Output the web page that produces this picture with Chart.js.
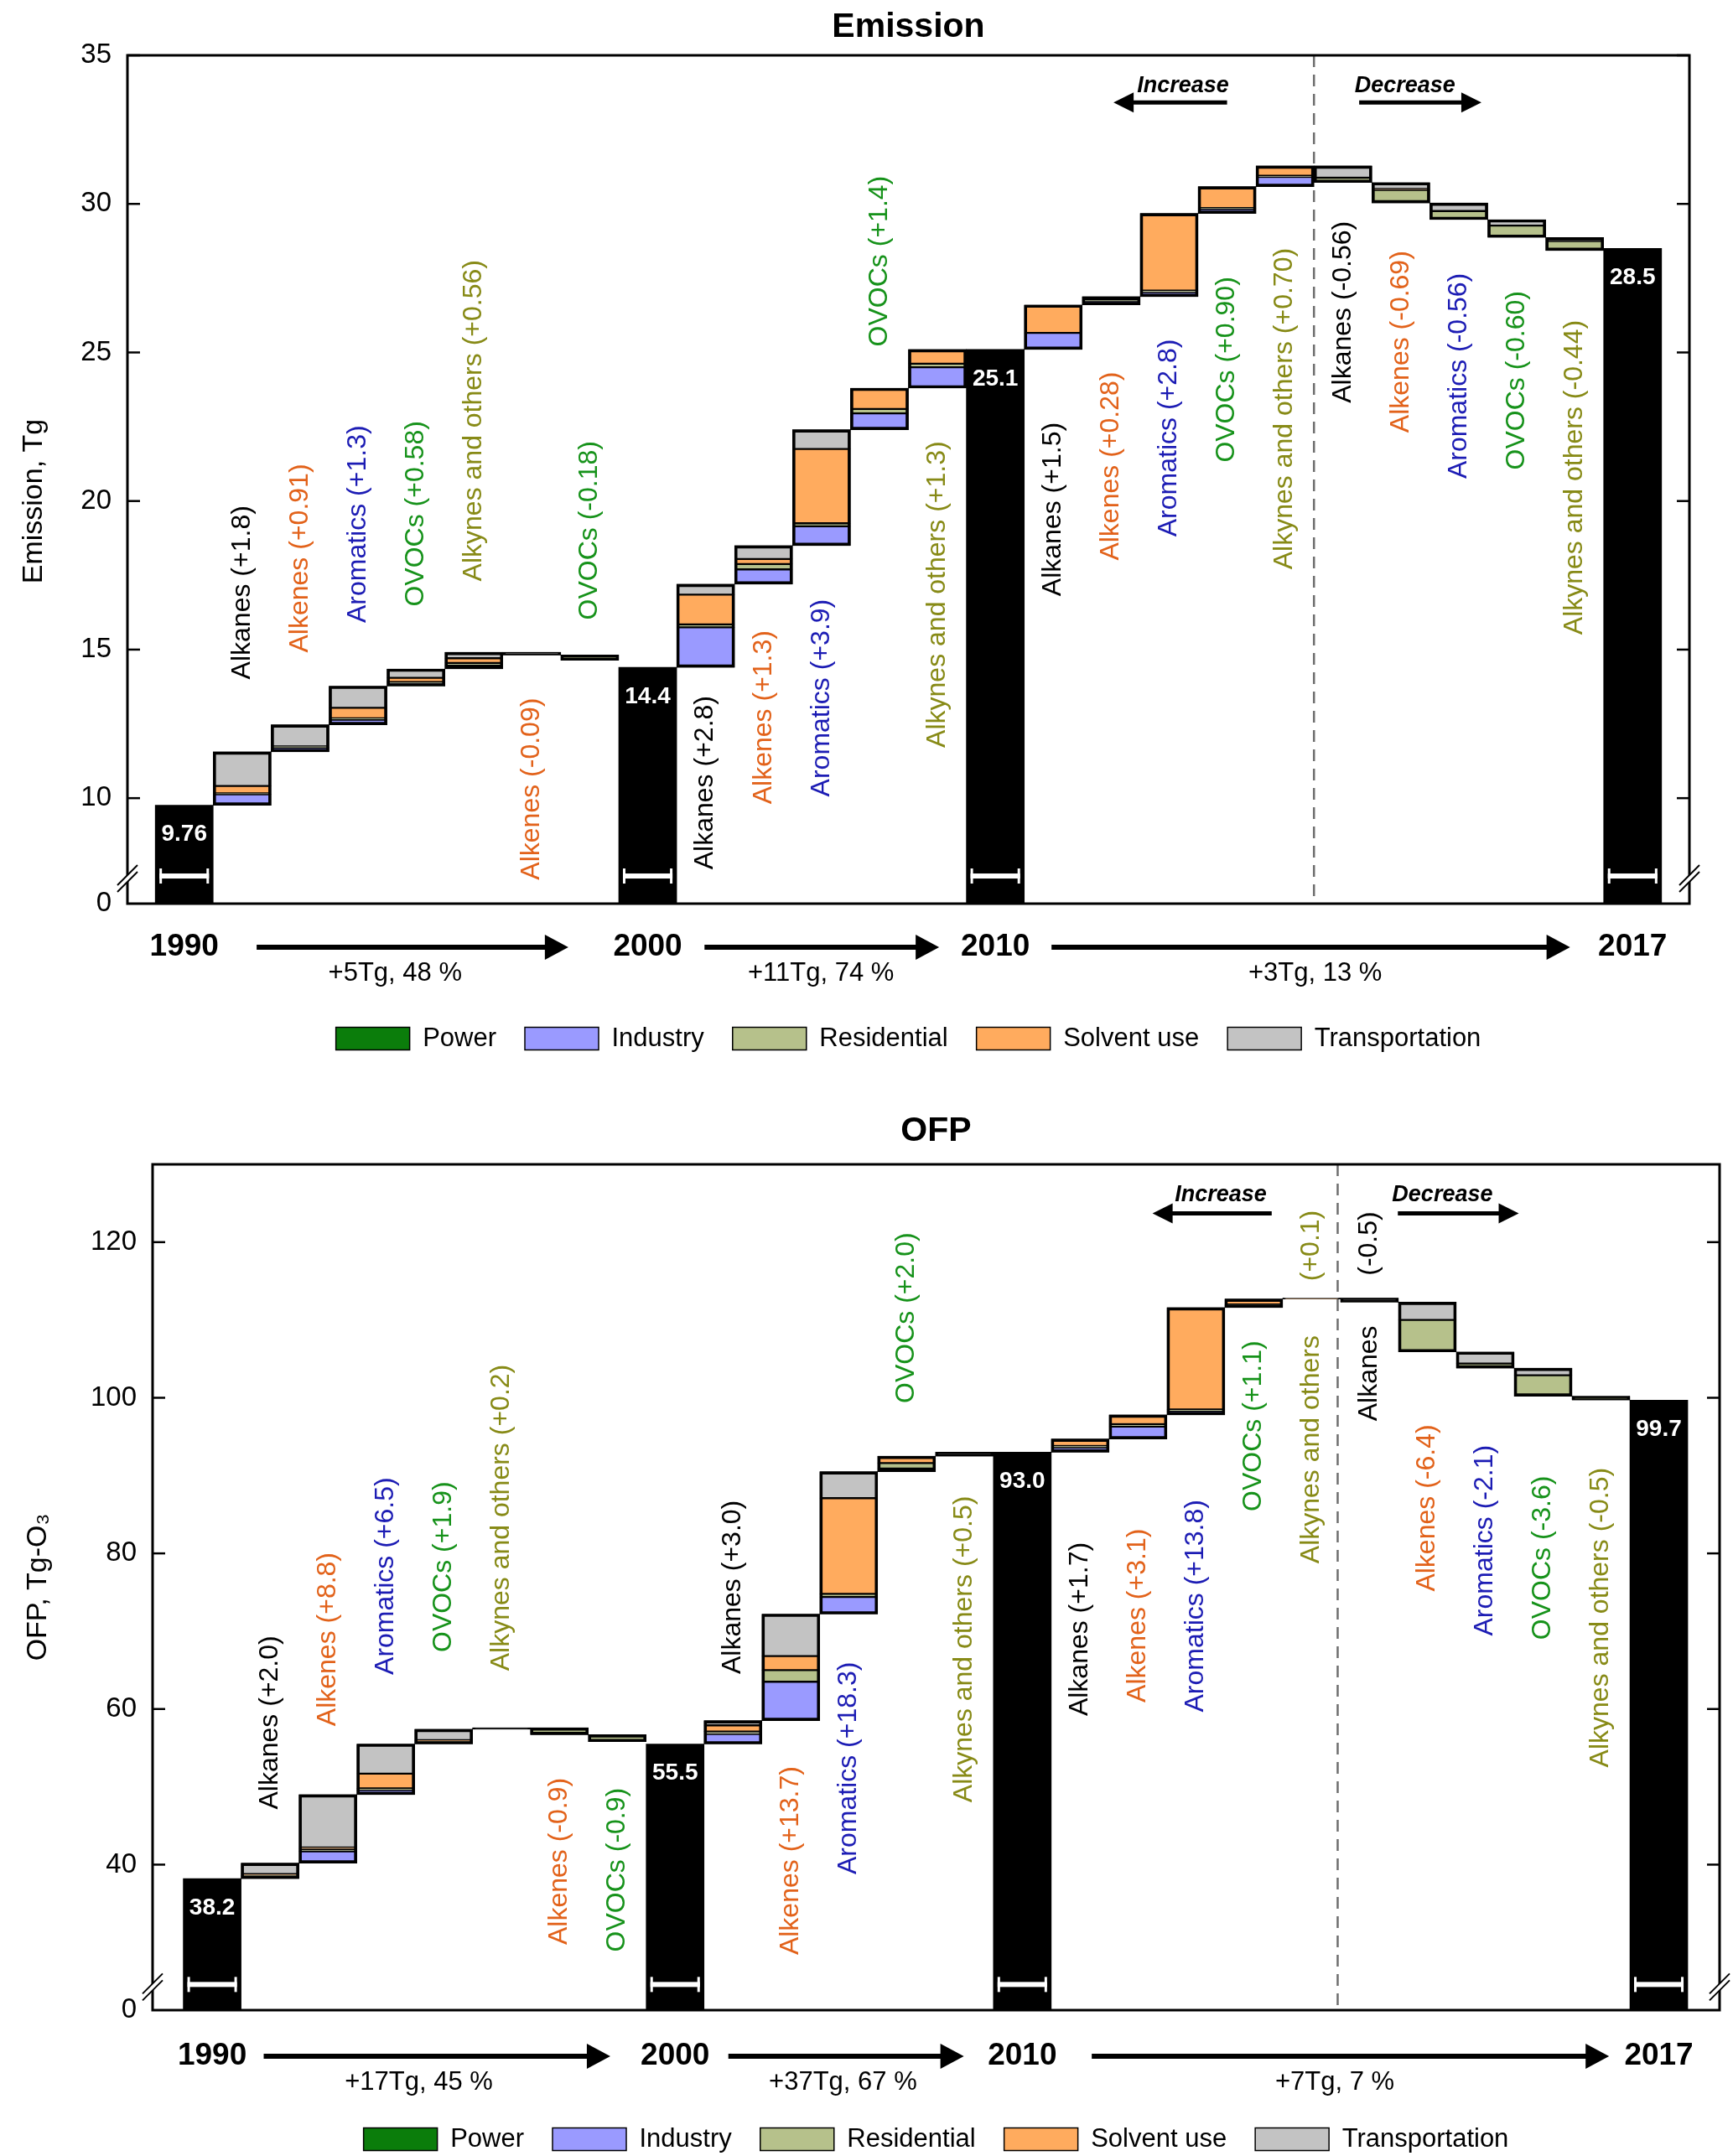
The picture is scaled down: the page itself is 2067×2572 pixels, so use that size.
<!DOCTYPE html>
<html>
<head>
<meta charset="utf-8">
<title>Emission / OFP</title>
<script src="https://cdn.jsdelivr.net/npm/chart.js@4.4.1/dist/chart.umd.min.js"></script>
<style>
  html, body { margin: 0; padding: 0; background: #fff; overflow: hidden; }
  canvas { display: block; }
</style>
</head>
<body>
<canvas id="emisChart" width="2067" height="1300" style="width:2067px;height:1300px"></canvas>
<canvas id="ofpChart" width="2067" height="1285" style="width:2067px;height:1285px"></canvas>
<script>
// ---- data ----
const sectorNames = ['Power', 'Industry', 'Residential', 'Solvent use', 'Transportation'];
const years = ['1990', '2000', '2010', '2017'];

// Emission, Tg
const emisCats = [
  '1990',
  'Alkanes (+1.8)', 'Alkenes (+0.91)', 'Aromatics (+1.3)', 'OVOCs (+0.58)', 'Alkynes and others (+0.56)', 'Alkenes (-0.09)', 'OVOCs (-0.18)',
  '2000',
  'Alkanes (+2.8)', 'Alkenes (+1.3)', 'Aromatics (+3.9)', 'OVOCs (+1.4)', 'Alkynes and others (+1.3)',
  '2010',
  'Alkanes (+1.5)', 'Alkenes (+0.28)', 'Aromatics (+2.8)', 'OVOCs (+0.90)', 'Alkynes and others (+0.70)',
  'Alkanes (-0.56)', 'Alkenes (-0.69)', 'Aromatics (-0.56)', 'OVOCs (-0.60)', 'Alkynes and others (-0.44)',
  '2017'
];
const emisTotal = [9.76, null, null, null, null, null, null, null, 14.4, null, null, null, null, null, 25.1,
  null, null, null, null, null, null, null, null, null, null, 28.5];
const emisPower = [0, 0, 0, 0, 0.04, 0, 0, 0, 0, 0, 0, 0, 0, 0, 0, 0, 0, 0, 0, 0, 0, 0, 0, 0, 0, 0];
const emisIndustry = [0, 0.37, 0.14, 0.17, 0.06, 0.12, 0, 0, 0, 1.35, 0.5, 0.65, 0.55, 0.7, 0,
  0.56, 0.12, 0.15, 0.15, 0.33, 0, 0, 0, 0, 0, 0];
const emisResidential = [0, 0.03, 0.04, 0.05, 0.04, 0.08, -0.03, -0.18, 0, 0.1, 0.18, 0.1, 0.15, 0.12, 0,
  0, 0.04, 0.05, 0.03, 0.04, -0.16, -0.44, -0.29, -0.40, -0.32, 0];
const emisSolvent = [0, 0.25, 0, 0.35, 0.14, 0.16, 0, 0, 0, 1.0, 0.17, 2.5, 0.7, 0.48, 0,
  0.94, 0.12, 2.6, 0.72, 0.33, 0, -0.03, 0, 0, 0, 0];
const emisTransport = [0, 1.15, 0.73, 0.73, 0.30, 0.20, -0.06, 0, 0, 0.35, 0.45, 0.65, 0, 0, 0,
  0, 0, 0, 0, 0, -0.40, -0.22, -0.27, -0.20, -0.12, 0];
const emisChange = ['+5Tg, 48 %', '+11Tg, 74 %', '+3Tg, 13 %'];
const emisTicks = [10, 15, 20, 25, 30, 35];

// OFP, Tg-O3
const ofpCats = [
  '1990',
  'Alkanes (+2.0)', 'Alkenes (+8.8)', 'Aromatics (+6.5)', 'OVOCs (+1.9)', 'Alkynes and others (+0.2)', 'Alkenes (-0.9)', 'OVOCs (-0.9)',
  '2000',
  'Alkanes (+3.0)', 'Alkenes (+13.7)', 'Aromatics (+18.3)', 'OVOCs (+2.0)', 'Alkynes and others (+0.5)',
  '2010',
  'Alkanes (+1.7)', 'Alkenes (+3.1)', 'Aromatics (+13.8)', 'OVOCs (+1.1)', 'Alkynes and others (+0.1)',
  'Alkanes (-0.5)', 'Alkenes (-6.4)', 'Aromatics (-2.1)', 'OVOCs (-3.6)', 'Alkynes and others (-0.5)',
  '2017'
];
const ofpTotal = [38.2, null, null, null, null, null, null, null, 55.5, null, null, null, null, null, 93.0,
  null, null, null, null, null, null, null, null, null, null, 99.7];
const ofpPower = [0, 0, 0, 0, 0, 0, 0, 0, 0, 0, 0, 0, 0, 0, 0, 0, 0, 0, 0, 0, 0, 0, 0, 0, 0, 0];
const ofpIndustry = [0, 0.3, 1.5, 0.6, 0.2, 0, 0, 0, 0, 1.3, 5.0, 2.2, 0.4, 0.2, 0,
  0.6, 1.6, 0.5, 0.2, 0, 0, 0, 0, 0, 0, 0];
const ofpResidential = [0, 0.1, 0.3, 0.2, 0.2, 0, -0.9, -0.9, 0, 0.3, 1.5, 0.4, 0.7, 0, 0,
  0.2, 0.3, 0.2, 0.2, 0, -0.1, -4.1, -0.6, -2.7, -0.4, 0];
const ofpSolvent = [0, 0.2, 0.2, 1.9, 0.1, 0, 0, 0, 0, 0.8, 1.8, 12.3, 0.8, 0, 0,
  0.9, 1.2, 13.1, 0.7, 0.05, 0, 0, 0, 0, 0, 0];
const ofpTransport = [0, 1.4, 6.8, 3.8, 1.4, 0.2, 0, 0, 0, 0.6, 5.4, 3.4, 0.1, 0.3, 0,
  0, 0, 0, 0, 0.05, -0.4, -2.3, -1.5, -0.9, -0.1, 0];
const ofpChange = ['+17Tg, 45 %', '+37Tg, 67 %', '+7Tg, 7 %'];
const ofpTicks = [40, 60, 80, 100, 120];

// ---- look ----
const FONT = '"Liberation Sans", Arial, Helvetica, sans-serif';
const sectorColors = ['#0b7d0b', '#9a9aff', '#b6c18b', '#ffab5e', '#c3c3c3'];
const speciesColors = { Alkanes: '#000000', Alkenes: '#e2621a', Aromatics: '#1c1cb4', OVOCs: '#16921a', Alkynes: '#878a16' };

// layout: pixel offsets and where each rotated label starts (in axis units)
const emisLayout = {
  canvas: 'emisChart', title: 'Emission', yTitle: 'Emission, Tg',
  yMin: 6.45, yMax: 35, xMin: -0.98, xMax: 25.98, breakAt: 7.38,
  axisWidth: 152, yTitleX: 41, yTitleDy: 26, padding: { top: 66, right: 52, bottom: 35.5, left: 0 },
  xAxisHeight: 111.5, titleY: 33, yearDy: 52, changeDy: 83,
  arrows: [[1.25, 6.63], [8.98, 13.03], [14.97, 23.92]],
  changeAt: [3.64, 10.99, 19.52],
  dividerAt: 19.5,
  incAt: 17.24, decAt: 21.07, incY: 33.97, incArrowY: 33.41, incArrow: [18.0, 16.04], decArrow: [20.28, 22.39],
  labelAt: [null, 14.0, 14.9, 15.9, 16.45, 17.3, 7.25, 16.0, null, 7.6, 9.8, 10.05, 25.2, 11.7, null,
    16.8, 18.0, 18.8, 21.3, 17.7, 23.3, 22.3, 20.75, 21.05, 15.5, null]
};
const ofpLayout = {
  canvas: 'ofpChart', title: 'OFP', yTitle: 'OFP, Tg-O\u2083',
  yMin: 21.3, yMax: 130, xMin: -1.03, xMax: 26.05, breakAt: 24.6,
  axisWidth: 182, yTitleX: 46, yTitleDy: 0, padding: { top: 89, right: 16, bottom: 7.5, left: 0 },
  xAxisHeight: 104.5, titleY: 50, yearDy: 55, changeDy: 86,
  arrows: [[0.89, 6.88], [8.92, 12.99], [15.2, 24.14]],
  changeAt: [3.57, 10.9, 19.4],
  dividerAt: 19.45,
  incAt: 17.43, decAt: 21.26, incY: 126.06, incArrowY: 123.7, incArrow: [18.31, 16.25], decArrow: [20.49, 22.58],
  labelAt: [null, 47.1, 57.8, 64.4, 67.3, 64.9, 29.7, 28.8, null, 64.5, 28.4, 38.75, 99.3, 48.0, null,
    59.1, 60.85, 59.6, 85.4, [78.7, 115.0], [97.0, 115.7], 75.1, 69.4, 68.9, 52.5, null]
};

// cumulative waterfall: steps start where the previous one ended, totals reset the level
function buildWaterfall(cats, totals, parts, yMin) {
  const sectors = parts.map(() => []);
  const steps = [];
  const bases = [];
  let level = 0;
  cats.forEach((c, i) => {
    if (totals[i] !== null) {
      level = totals[i];
      bases.push({ x: i, y: [yMin, totals[i]] });
      return;
    }
    const sum = parts.reduce((s, p) => s + p[i], 0);
    const lo = Math.min(level, level + sum);
    let top = lo;
    parts.forEach((p, k) => {
      const v = Math.abs(p[i]);
      if (v > 0) sectors[k].push({ x: i, y: [top, top + v] });
      top += v;
    });
    steps.push({ x: i, y: [lo, lo + Math.abs(sum)] });
    level += sum;
  });
  return { sectors, steps, bases };
}

function line(ctx, x0, y0, x1, y1) {
  ctx.beginPath(); ctx.moveTo(x0, y0); ctx.lineTo(x1, y1); ctx.stroke();
}

function arrow(ctx, x0, x1, yy, lw, headLen, headHalf) {
  const dir = Math.sign(x1 - x0);
  ctx.lineWidth = lw;
  line(ctx, x0, yy, x1 - dir * headLen * 0.8, yy);
  ctx.beginPath();
  ctx.moveTo(x1, yy);
  ctx.lineTo(x1 - dir * headLen, yy - headHalf);
  ctx.lineTo(x1 - dir * headLen, yy + headHalf);
  ctx.closePath();
  ctx.fill();
}

function decorPlugin(L, cats, totals, ticks, change) {
  const totIdx = totals.map((v, i) => (v === null ? -1 : i)).filter(i => i >= 0);
  return {
    id: 'decor',
    beforeDatasetsDraw(chart) {
      const { ctx, chartArea: a, scales: { x } } = chart;
      ctx.save();
      ctx.strokeStyle = '#6e6e6e';
      ctx.lineWidth = 2.5;
      ctx.setLineDash([14, 9]);
      const dx = x.getPixelForValue(L.dividerAt);
      line(ctx, dx, a.top, dx, a.bottom);
      ctx.restore();
    },
    afterDraw(chart) {
      const { ctx, chartArea: a, scales: { x, y } } = chart;
      ctx.save();
      const by = y.getPixelForValue(L.breakAt);

      // totals: break gap and white value
      const meta = chart.getDatasetMeta(1);
      ctx.textAlign = 'center';
      ctx.textBaseline = 'middle';
      ctx.font = 'bold 28px ' + FONT;
      meta.data.forEach((el, k) => {
        const v = totals[totIdx[k]];
        const left = el.x - el.width / 2, w = el.width;
        ctx.fillStyle = '#fff';
        ctx.fillRect(left + 5, by - 3, w - 10, 6);
        ctx.fillRect(left + 5, by - 9, 3, 18);
        ctx.fillRect(left + w - 8, by - 9, 3, 18);
        ctx.fillText(v.toFixed(v < 10 ? 2 : 1), el.x, y.getPixelForValue(v) + 35);
      });

      // rotated species labels
      ctx.font = '32px ' + FONT;
      ctx.textAlign = 'left';
      cats.forEach((text, i) => {
        const at = L.labelAt[i];
        if (at === null) return;
        ctx.fillStyle = speciesColors[text.split(' ')[0]];
        const px = x.getPixelForValue(i);
        const cut = text.lastIndexOf(' (');
        const pieces = Array.isArray(at)
          ? [[text.slice(0, cut), at[0]], [text.slice(cut + 1), at[1]]]
          : [[text, at]];
        pieces.forEach(([t, v]) => {
          ctx.save();
          ctx.translate(px, y.getPixelForValue(v));
          ctx.rotate(-Math.PI / 2);
          ctx.fillText(t, 0, 0);
          ctx.restore();
        });
      });

      // y axis title
      ctx.fillStyle = '#000';
      ctx.textAlign = 'center';
      ctx.font = '34px ' + FONT;
      ctx.save();
      ctx.translate(L.yTitleX, (a.top + a.bottom) / 2 + L.yTitleDy);
      ctx.rotate(-Math.PI / 2);
      ctx.fillText(L.yTitle, 0, 0);
      ctx.restore();

      // increase / decrease
      ctx.strokeStyle = '#000';
      ctx.font = 'italic bold 27px ' + FONT;
      ctx.fillText('Increase', x.getPixelForValue(L.incAt), y.getPixelForValue(L.incY));
      ctx.fillText('Decrease', x.getPixelForValue(L.decAt), y.getPixelForValue(L.incY));
      const ay = y.getPixelForValue(L.incArrowY);
      arrow(ctx, x.getPixelForValue(L.incArrow[0]), x.getPixelForValue(L.incArrow[1]), ay, 5, 24, 12);
      arrow(ctx, x.getPixelForValue(L.decArrow[0]), x.getPixelForValue(L.decArrow[1]), ay, 5, 24, 12);

      // frame and inward ticks
      ctx.lineWidth = 3;
      ctx.strokeRect(a.left, a.top, a.right - a.left, a.bottom - a.top);
      ctx.lineWidth = 2.5;
      ticks.forEach(v => {
        const py = y.getPixelForValue(v);
        line(ctx, a.left, py, a.left + 15, py);
        line(ctx, a.right - 15, py, a.right, py);
      });

      // axis break marks
      [a.left, a.right].forEach(ax => {
        ctx.fillStyle = '#fff';
        ctx.beginPath();
        ctx.moveTo(ax - 10, by + 9);
        ctx.lineTo(ax + 10, by - 11);
        ctx.lineTo(ax + 10, by - 3);
        ctx.lineTo(ax - 10, by + 17);
        ctx.closePath();
        ctx.fill();
        ctx.lineWidth = 2;
        line(ctx, ax - 12, by + 11, ax + 12, by - 13);
        line(ctx, ax - 12, by + 19, ax + 12, by - 5);
      });

      // years, period arrows, change text
      ctx.fillStyle = '#000';
      const yy = a.bottom + L.yearDy;
      ctx.font = 'bold 37px ' + FONT;
      years.forEach((t, k) => ctx.fillText(t, x.getPixelForValue(totIdx[k]), yy));
      L.arrows.forEach(([s, e]) => arrow(ctx, x.getPixelForValue(s), x.getPixelForValue(e), yy, 6, 28, 15));
      ctx.font = '31px ' + FONT;
      change.forEach((t, k) => ctx.fillText(t, x.getPixelForValue(L.changeAt[k]), a.bottom + L.changeDy));

      // title
      ctx.font = 'bold 41px ' + FONT;
      ctx.fillText(L.title, (a.left + a.right) / 2, L.titleY);
      ctx.restore();
    }
  };
}

function makeChart(L, cats, totals, parts, ticks, change) {
  const d = buildWaterfall(cats, totals, parts, L.yMin);
  const datasets = [
    { label: 'step', data: d.steps, backgroundColor: 'rgba(0,0,0,0)', borderColor: '#000', borderWidth: 3, borderSkipped: false, order: 0 },
    { label: 'total', data: d.bases, backgroundColor: '#000', borderColor: '#000', borderWidth: 0, order: 1 }
  ].concat(sectorNames.map((name, k) => ({
    label: name, data: d.sectors[k], backgroundColor: sectorColors[k],
    borderColor: '#000', borderWidth: 1.5, borderSkipped: false, order: 1
  })));

  return new Chart(document.getElementById(L.canvas), {
    type: 'bar',
    data: { datasets },
    options: {
      responsive: false,
      animation: false,
      devicePixelRatio: 1,
      events: [],
      layout: { padding: L.padding },
      datasets: { bar: { barPercentage: 1, categoryPercentage: 1, grouped: false } },
      scales: {
        x: {
          type: 'linear', min: L.xMin, max: L.xMax, bounds: 'data', offset: false,
          grid: { display: false }, border: { display: false },
          ticks: { display: false },
          afterFit: s => { s.height = L.xAxisHeight; }
        },
        y: {
          type: 'linear', min: L.yMin, max: L.yMax, bounds: 'data',
          grid: { display: false, drawTicks: false }, border: { display: false },
          afterFit: s => { s.width = L.axisWidth; },
          afterBuildTicks: s => { s.ticks = [L.yMin].concat(ticks).map(v => ({ value: v })); },
          ticks: {
            autoSkip: false, color: '#000', padding: 19, font: { size: 33 },
            callback: v => (Math.abs(v - L.yMin) < 1e-9 ? '0' : String(v))
          }
        }
      },
      plugins: {
        tooltip: { enabled: false },
        legend: {
          position: 'bottom',
          fullSize: false,
          labels: {
            filter: item => item.datasetIndex >= 2,
            boxWidth: 88, boxHeight: 27, padding: 34, color: '#000', font: { size: 31 }
          }
        }
      }
    },
    plugins: [decorPlugin(L, cats, totals, ticks, change)]
  });
}

Chart.defaults.font.family = FONT;
Chart.defaults.color = '#000';

makeChart(emisLayout, emisCats, emisTotal,
  [emisPower, emisIndustry, emisResidential, emisSolvent, emisTransport], emisTicks, emisChange);
makeChart(ofpLayout, ofpCats, ofpTotal,
  [ofpPower, ofpIndustry, ofpResidential, ofpSolvent, ofpTransport], ofpTicks, ofpChange);
</script>
</body>
</html>
